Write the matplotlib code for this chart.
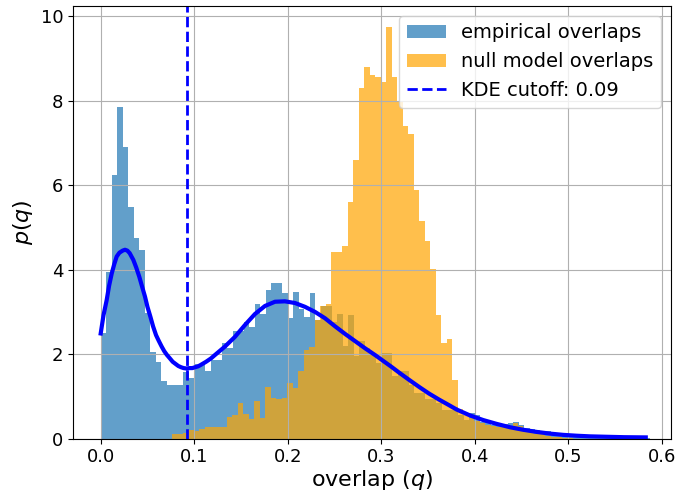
import numpy as np
import matplotlib
matplotlib.use("Agg")
import matplotlib.pyplot as plt

# ---- data ----
bin_width = 0.00588
empirical_start = 0.0
empirical_density = [
    2.49, 3.95, 6.25, 7.85, 6.91, 5.49, 4.74, 4.46, 2.97, 2.06,
    1.82, 1.37, 1.27, 1.27, 1.27, 1.57, 1.43, 1.76, 1.76, 1.61,
    1.86, 1.86, 2.27, 2.14, 2.55, 2.55, 2.77, 2.65, 3.19, 2.95,
    3.52, 3.68, 3.68, 3.45, 2.85, 3.48, 3.07, 2.87, 3.44, 2.81,
    3.14, 3.15, 2.77, 2.94, 2.19, 2.93, 1.96, 2.32, 2.14, 2.02,
    1.78, 2.02, 2.03, 1.48, 1.59, 1.59, 1.27, 1.07, 1.07, 0.95,
    0.95, 0.84, 0.68, 0.68, 0.76, 0.56, 0.44, 0.60, 0.56, 0.40,
    0.40, 0.32, 0.38, 0.35, 0.38, 0.40, 0.32, 0.25, 0.23, 0.20,
    0.17, 0.17, 0.13, 0.12, 0.09, 0.12, 0.12, 0.06, 0.05, 0.04,
    0.03, 0.02, 0.03, 0.01, 0.02, 0.01, 0.01, 0.00, 0.01, 0.01,
]
null_start = 0.0759
null_density = [
    0.10, 0.12, 0.13, 0.21, 0.17, 0.22, 0.27, 0.27, 0.27, 0.27,
    0.51, 0.56, 0.84, 0.58, 0.47, 0.90, 0.50, 1.23, 0.97, 0.94,
    0.97, 1.31, 1.21, 1.59, 2.10, 2.18, 2.81, 3.14, 3.18, 4.42,
    4.42, 4.56, 5.61, 6.59, 8.30, 8.80, 8.60, 8.56, 8.45, 9.75,
    8.56, 7.97, 7.40, 7.22, 5.88, 5.15, 4.68, 4.01, 2.93, 2.26,
    2.37, 1.39, 0.70, 0.56, 0.50, 0.42, 0.38, 0.33, 0.30, 0.28,
    0.35, 0.30, 0.38, 0.30, 0.20, 0.15, 0.12, 0.10, 0.07, 0.05,
    0.03, 0.02, 0.01,
]
kde_x = [0.0, 0.003, 0.0064, 0.009, 0.0118, 0.0145, 0.0171, 0.020, 0.0235,
         0.026, 0.0285, 0.031, 0.0349, 0.038, 0.0413, 0.044, 0.0474, 0.050,
         0.0531, 0.056, 0.0592, 0.062, 0.0652, 0.068, 0.0709, 0.074, 0.0770,
         0.080, 0.0830, 0.086, 0.0887, 0.092, 0.0948, 0.098, 0.1009, 0.104,
         0.1066, 0.1127, 0.118, 0.1222, 0.1329, 0.1436, 0.1543, 0.165, 0.1757,
         0.1864, 0.197, 0.2078, 0.2185, 0.2292, 0.2399, 0.2506, 0.2613, 0.272,
         0.2827, 0.2934, 0.3022, 0.311, 0.320, 0.330, 0.3409, 0.351, 0.3623,
         0.372, 0.3807, 0.395, 0.4092, 0.4235, 0.4378, 0.452, 0.4663, 0.4805,
         0.4948, 0.509, 0.523, 0.541, 0.56, 0.583]
kde_y = [2.49, 2.92, 3.28, 3.62, 3.91, 4.13, 4.31, 4.40, 4.45,
         4.47, 4.45, 4.39, 4.23, 4.05, 3.83, 3.62, 3.36, 3.12,
         2.89, 2.66, 2.45, 2.32, 2.18, 2.07, 1.98, 1.90, 1.82,
         1.77, 1.72, 1.69, 1.67, 1.66, 1.67, 1.67, 1.69, 1.71,
         1.74, 1.82, 1.90, 1.98, 2.18, 2.41, 2.69, 2.95, 3.14,
         3.24, 3.25, 3.21, 3.12, 3.00, 2.85, 2.66, 2.48, 2.31,
         2.14, 1.98, 1.84, 1.70, 1.55, 1.39, 1.22, 1.07, 0.92,
         0.80, 0.69, 0.55, 0.44, 0.35, 0.27, 0.21, 0.16, 0.12,
         0.09, 0.07, 0.055, 0.045, 0.035, 0.03]
cutoff = 0.0927
cutoff_label = "KDE cutoff: 0.09"

# ---- plotting ----
fig = plt.figure(figsize=(6.78, 4.94), dpi=100)
ax = fig.add_axes([0.1077, 0.112, 0.8820, 0.876])

e_edges = empirical_start + bin_width * np.arange(len(empirical_density) + 1)
e_centers = 0.5 * (e_edges[:-1] + e_edges[1:])
n_edges = null_start + bin_width * np.arange(len(null_density) + 1)
n_centers = 0.5 * (n_edges[:-1] + n_edges[1:])

ax.hist(e_centers, bins=e_edges, weights=empirical_density, color="C0",
        alpha=0.7, label="empirical overlaps")
ax.hist(n_centers, bins=n_edges, weights=null_density, color="orange",
        alpha=0.7, label="null model overlaps")
ax.plot(kde_x, kde_y, color="blue", linewidth=3)
ax.axvline(cutoff, color="blue", linestyle="--", linewidth=2, label=cutoff_label)

ax.set_xlim(-0.0296, 0.610)
ax.set_ylim(0, 10.24)
ax.grid(True)
ax.tick_params(labelsize=13)
ax.set_xlabel("overlap ($q$)", fontsize=16, labelpad=1.5)
ax.set_ylabel("$p(q)$", fontsize=16)
ax.legend(loc="upper right", fontsize=14)

fig.savefig("out.png", dpi=100)
